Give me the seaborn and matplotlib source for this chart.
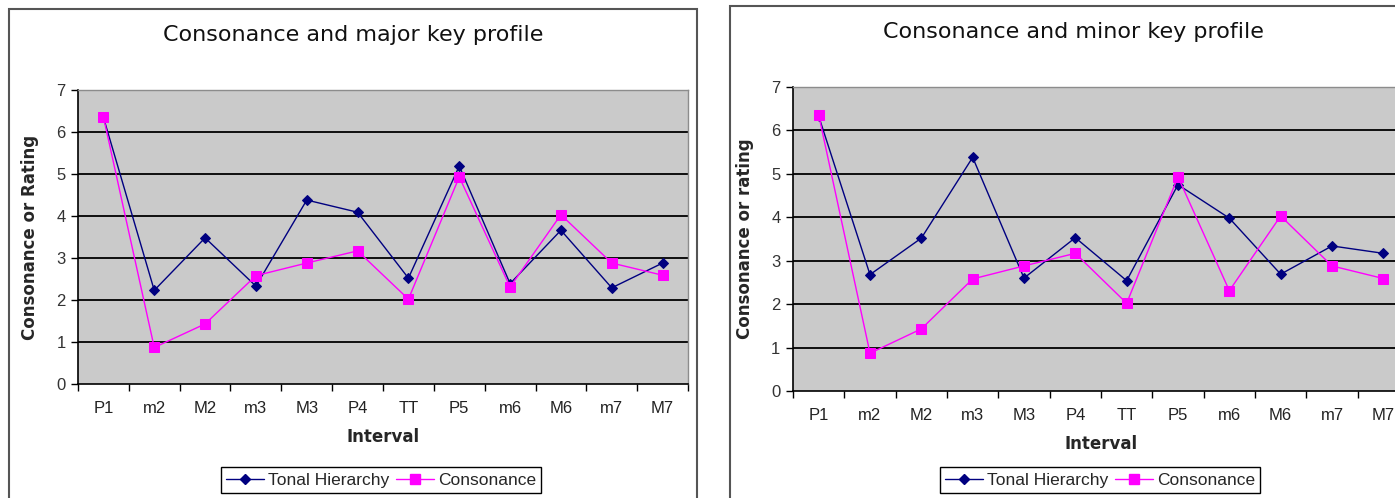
import matplotlib
matplotlib.use("Agg")
import matplotlib.pyplot as plt
from matplotlib.patches import Rectangle
from matplotlib.lines import Line2D
import numpy as np
import pandas as pd
import seaborn as sns

# Interval categories and ratings
intervals = ["P1", "m2", "M2", "m3", "M3", "P4", "TT", "P5", "m6", "M6", "m7", "M7"]
major_profile = [6.35, 2.23, 3.48, 2.33, 4.38, 4.09, 2.52, 5.19, 2.39, 3.66, 2.29, 2.88]
minor_profile = [6.33, 2.68, 3.52, 5.38, 2.60, 3.53, 2.54, 4.75, 3.98, 2.69, 3.34, 3.17]
consonance = [6.36, 0.87, 1.43, 2.58, 2.88, 3.17, 2.02, 4.93, 2.31, 4.03, 2.88, 2.59]

series_names = ["Tonal Hierarchy", "Consonance"]
titles = ["Consonance and major key profile", "Consonance and minor key profile"]
ylabels = ["Consonance or Rating", "Consonance or rating"]

NAVY = "#000080"
MAGENTA = "#FF00FF"
PLOT_BG = "#CACACA"

sns.set_theme(style="white")
plt.rcParams["font.family"] = ["DejaVu Sans"]

W, H = 1395, 498
fig = plt.figure(figsize=(W / 100, H / 100), dpi=100)
fig.patch.set_facecolor("white")


def px_axes(left, top, right, bottom):
    return fig.add_axes([left / W, 1 - bottom / H, (right - left) / W, (bottom - top) / H])


panels = [
    dict(ax=px_axes(78, 90, 688, 384), profile=major_profile,
         frame=(8.5, 8.5, 697, 520), title_xy=(353, 35), legend_x=381),
    dict(ax=px_axes(793, 87, 1409, 391), profile=minor_profile,
         frame=(729.5, 5.5, 1420, 520), title_xy=(1073, 32), legend_x=1100),
]

tick_font = ["Liberation Sans", "DejaVu Sans"]

for i, p in enumerate(panels):
    ax = p["ax"]
    df = pd.DataFrame({
        "Interval": intervals * 2,
        "Value": list(p["profile"]) + list(consonance),
        "Series": [series_names[0]] * 12 + [series_names[1]] * 12,
    })
    sns.pointplot(
        data=df, x="Interval", y="Value", hue="Series", order=intervals,
        hue_order=series_names, palette=[NAVY, MAGENTA], markers=["D", "s"],
        linestyles=["-", "-"], ax=ax, legend=False, errorbar=None,
        markersize=5, linewidth=1.0, zorder=3,
    )
    # marker styling per series
    for line, col, ms in zip(ax.lines[:2], [NAVY, MAGENTA], [5.5, 6.5]):
        line.set_markersize(ms)
        line.set_markeredgecolor(col)
        line.set_markerfacecolor(col)
        line.set_linewidth(1.0)

    ax.set_facecolor(PLOT_BG)
    ax.set_xlim(-0.5, 11.5)
    ax.set_ylim(0, 7)
    ax.set_yticks(range(0, 8))
    ax.set_yticklabels([str(v) for v in range(0, 8)], fontsize=12, family=tick_font, color="#333333")
    for y in range(1, 7):
        ax.axhline(y, color="black", lw=1.3, zorder=1)

    # category ticks sit between labels
    ax.set_xticks(np.arange(-0.5, 12.0, 1.0))
    ax.set_xticklabels([""] * 13)
    ax.set_xticks(np.arange(12), minor=True)
    ax.set_xticklabels(intervals, minor=True, fontsize=12, family=tick_font, color="#222222")
    ax.tick_params(axis="x", which="major", direction="out", length=5, width=1, color="black", bottom=True)
    ax.tick_params(axis="x", which="minor", length=0, pad=12)
    ax.tick_params(axis="y", direction="out", length=5, width=1, color="black", left=True, pad=4)

    for side in ["left", "bottom"]:
        ax.spines[side].set_color("black")
        ax.spines[side].set_linewidth(1.2)
    for side in ["top", "right"]:
        ax.spines[side].set_color("#8c8c8c")
        ax.spines[side].set_linewidth(1.0)

    ax.set_xlabel("Interval", fontsize=12, fontweight="bold", labelpad=9)
    ax.set_ylabel(ylabels[i], fontsize=12, fontweight="bold", labelpad=12)

    # panel frame
    fx0, fy0, fx1, fy1 = p["frame"]
    fig.patches.append(Rectangle((fx0 / W, 1 - fy1 / H), (fx1 - fx0) / W, (fy1 - fy0) / H,
                                 transform=fig.transFigure, fill=False,
                                 edgecolor="#555555", lw=1.5, zorder=0))
    tx, ty = p["title_xy"]
    fig.text(tx / W, 1 - ty / H, titles[i], ha="center", va="center", fontsize=16, color="#111111")

    handles = [
        Line2D([], [], color=NAVY, marker="D", markersize=5.5, lw=1.0),
        Line2D([], [], color=MAGENTA, marker="s", markersize=6.5, lw=1.0),
    ]
    fig.legend(handles, series_names, loc="center",
               bbox_to_anchor=(p["legend_x"] / W, 1 - 480 / H), ncol=2,
               frameon=True, fancybox=False, edgecolor="black", framealpha=1,
               handlelength=2.2, handletextpad=0.2, columnspacing=0.4,
               borderpad=0.3, prop={"family": tick_font, "size": 12.5})

fig.savefig("out.png", dpi=100)
